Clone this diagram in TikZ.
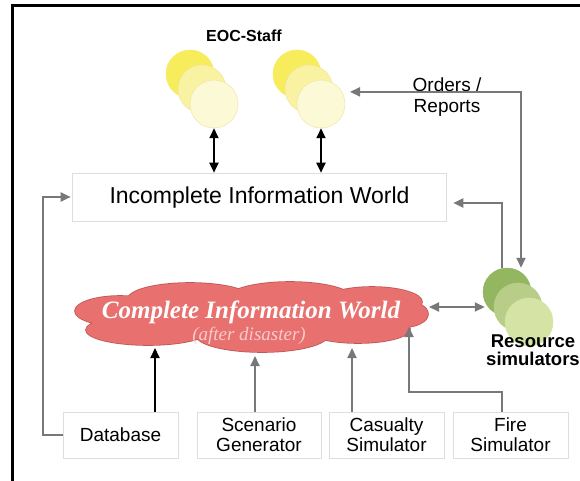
\documentclass[tikz,border=0pt]{standalone}
\usepackage{fontspec}
\setmainfont{Liberation Serif}
\setsansfont{Liberation Sans}
\usetikzlibrary{arrows.meta}

\begin{document}
\begin{tikzpicture}[
  x=1pt, y=-1pt,
  font=\sffamily,
  staff/.style={circle, minimum size=48pt, inner sep=0pt, line width=0.5pt},
  infobox/.style={draw=boxline, fill=white, line width=0.6pt, inner sep=0pt,
    align=center, font=\sffamily\fontsize{19}{20}\selectfont},
  link/.style={line width=2pt, draw=linkgray, -{Triangle[length=10pt,width=9pt]}},
  dlink/.style={link, {Triangle[length=10pt,width=9pt]}-{Triangle[length=10pt,width=9pt]}},
  blink/.style={link, draw=black},
  dblink/.style={dlink, draw=black},
  puffs/.style={insert path={
    (120,311) ellipse [x radius=45, y radius=15]
    (190,299) ellipse [x radius=62, y radius=16]
    (290,298) ellipse [x radius=62, y radius=16]
    (372,302) ellipse [x radius=50, y radius=15]
    (404,314) ellipse [x radius=24, y radius=13]
    (148,330) ellipse [x radius=62, y radius=15]
    (262,335) ellipse [x radius=66, y radius=17]
    (358,329) ellipse [x radius=52, y radius=14]
    (252,316) ellipse [x radius=150, y radius=24]}},
]
\definecolor{boxline}{RGB}{222,222,222}
\definecolor{linkgray}{RGB}{120,120,120}
\definecolor{yelA}{RGB}{247,236,92}
\definecolor{yelB}{RGB}{249,242,163}
\definecolor{yelC}{RGB}{252,249,214}
\definecolor{yelE}{RGB}{240,230,160}
\definecolor{grnA}{RGB}{148,182,97}
\definecolor{grnB}{RGB}{184,206,136}
\definecolor{grnC}{RGB}{213,227,165}
\definecolor{cloudred}{RGB}{232,112,111}
\definecolor{cloudedge}{RGB}{190,88,88}
\definecolor{cloudsub}{RGB}{248,204,204}

\useasboundingbox (0,0) rectangle (580,481);
\fill [white] (0,0) rectangle (580,481);
\draw [line width=3pt] (12,490) -- (12,6) -- (590,6);

% EOC staff
\node [font=\sffamily\bfseries\fontsize{16}{18}\selectfont, anchor=base] (eoc) at (244,42) {EOC-Staff};
\node [staff, fill=yelA, draw=yelA] (s1a) at (190,74) {};
\node [staff, fill=yelB, draw=yelE] (s1b) at (202,89) {};
\node [staff, fill=yelC, draw=yelE] (s1c) at (214,104) {};
\node [staff, fill=yelA, draw=yelA] (s2a) at (297,74) {};
\node [staff, fill=yelB, draw=yelE] (s2b) at (309,89) {};
\node [staff, fill=yelC, draw=yelE] (s2c) at (321,104) {};

% resource simulators
\node [staff, fill=grnA, draw=grnA] (res1) at (507,292) {};
\node [staff, fill=grnB, draw=grnB] (res2) at (518,307) {};
\node [staff, fill=grnC, draw=grnC] (res3) at (529,322) {};
\node [font=\sffamily\bfseries\fontsize{18.5}{18}\selectfont, align=center, anchor=base] (rsl) at (533,365) {Resource\\simulators};

\node [infobox, minimum width=374pt, minimum height=48pt] (iiw) at (259,197) {};
\node [font=\sffamily\fontsize{23}{25}\selectfont, anchor=base] (iiwt) at (259.5,203) {Incomplete Information World};

% complete information world
\draw [cloudedge, line width=1.6pt, puffs];
\fill [cloudred, puffs];
\coordinate (ciw) at (252,316);
\node [text=white, font=\rmfamily\bfseries\itshape\fontsize{25}{27}\selectfont, anchor=base] (ciwt) at (251,318) {Complete Information World};
\node [text=cloudsub, font=\rmfamily\itshape\fontsize{19}{20}\selectfont, anchor=base] (ciws) at (249,340) {(after disaster)};

\node [infobox, minimum width=115pt, minimum height=46pt] (db) at (120.5,435) {Database};
\node [infobox, minimum width=124pt, minimum height=46pt] (sg) at (259,435) {Scenario\\Generator};
\node [infobox, minimum width=115pt, minimum height=46pt] (cs) at (386.5,435) {Casualty\\Simulator};
\node [infobox, minimum width=115pt, minimum height=46pt] (fs) at (510.5,435) {Fire\\Simulator};

\node [font=\sffamily\fontsize{19}{21}\selectfont, align=center, anchor=base] (ord) at (447,113) {Orders /\\Reports};

\coordinate (ciw-db) at (155,348);
\coordinate (ciw-sg) at (255,356);
\coordinate (ciw-cs) at (352,348);
\coordinate (ciw-fs) at (409,327);
\coordinate (ciw-rs) at (429,307);

\draw [dblink] (s1c.south) -- (s1c.south |- iiw.north);
\draw [dblink] (s2c.south) -- (s2c.south |- iiw.north);

\draw [dlink, shorten >=8pt] ([xshift=14pt]res1.north) |- (s2c.30);
\draw [link, shorten >=7pt] ([xshift=-5pt]res1.north) |- ([yshift=-6pt]iiw.east);
\draw [dlink, shorten >=9pt] (ciw-rs) -- (res2.west);
\draw [link, shorten >=1pt] (db.west) -- ++(-20,0) |- (iiw.west);

\draw [blink] (db.north -| ciw-db) -- (ciw-db);
\draw [link] (sg.north -| ciw-sg) -- (ciw-sg);
\draw [link] (cs.north -| ciw-cs) -- (ciw-cs);
\draw [link] ([xshift=-8.5pt]fs.north) -- ++(0,-20) -| (ciw-fs);

\end{tikzpicture}
\end{document}
